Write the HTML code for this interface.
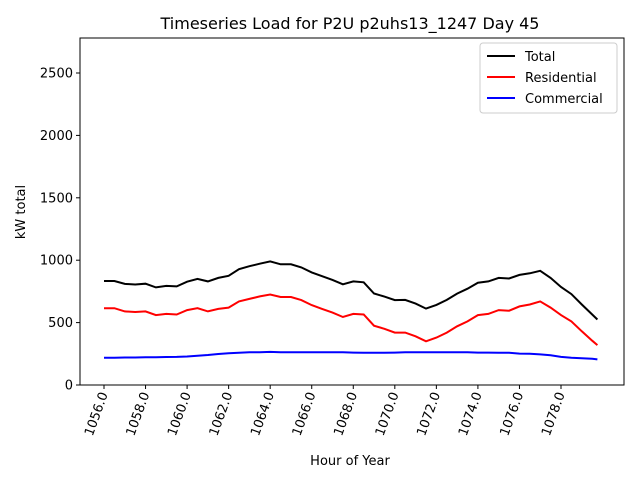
<!DOCTYPE html>
<html><head><meta charset="utf-8"><style>
body{margin:0;background:#fff;font-family:"Liberation Sans","DejaVu Sans",sans-serif}
svg text{font-family:"DejaVu Sans","Liberation Sans",sans-serif}
</style></head><body>
<svg id="c" width="640" height="480" xmlns="http://www.w3.org/2000/svg">
<rect width="640" height="480" fill="#fff"/>
</svg>
<script>
const hours=[];for(let h=1056;h<=1079.5;h+=0.5)hours.push(h);hours.push(1079.75);
const totalVals=[833,833,810,805,812,782,794,790,828,850,830,858,875,928,952,972,990,967,967,942,902,872,842,807,830,823,733,708,680,682,652,612,642,682,732,772,820,830,858,853,882,895,915,858,785,728,645,565,525];
const residentialVals=[615,615,590,585,590,560,570,565,600,615,590,610,620,670,690,710,725,705,705,680,640,610,580,545,570,565,475,450,420,420,390,350,380,420,470,510,560,570,600,595,630,645,670,620,560,510,430,355,320];
const commercialVals=[218,218,220,220,222,222,224,225,228,235,240,248,255,258,262,262,265,262,262,262,262,262,262,262,260,258,258,258,260,262,262,262,262,262,262,262,260,260,258,258,252,250,245,238,225,218,215,210,205];
const xTicks=[1056,1058,1060,1062,1064,1066,1068,1070,1072,1074,1076,1078];
const yTicks=[0,500,1000,1500,2000,2500];
const L=80,R=624,T=38,B=385;
const xs=h=>104+(h-1056)*(561-104)/22;
const ys=v=>385-v*0.1248;
const svg=document.getElementById('c');const NS='http://www.w3.org/2000/svg';
function mk(t,a,p){const e=document.createElementNS(NS,t);for(const k in a)e.setAttribute(k,a[k]);(p||svg).appendChild(e);return e;}
const frame=mk('rect',{x:L,y:T,width:R-L,height:B-T,fill:'none',stroke:'#000','stroke-width':1});


xTicks.forEach(t=>{const x=xs(t);
 const l=mk('line',{x1:x,x2:x,y1:B,y2:B+4,stroke:'#000'});
 
 
 const tx=mk('text',{x:0,y:0,'font-size':13,'text-anchor':'end',transform:`translate(${x+4},${B+9}) rotate(-70)`});
 tx.textContent=t.toFixed(1);
 
 
});
yTicks.forEach(t=>{const y=ys(t);
 const l=mk('line',{x1:L-4,x2:L,y1:y,y2:y,stroke:'#000'});
 
 
 const tx=mk('text',{x:L-7,y:y+4.5,'font-size':13,'text-anchor':'end'});
 tx.textContent=t;
 
 
});
function series(vals,col,name){
 const d=vals.map((v,i)=>(i?'L':'M')+xs(hours[i]).toFixed(1)+','+ys(v).toFixed(1)).join('');
 const p=mk('path',{d:d,fill:'none',stroke:col,'stroke-width':2});
 
 
}
series(totalVals,'#000','total-line');
series(residentialVals,'#f00','residential-line');
series(commercialVals,'#00f','commercial-line');
const title=mk('text',{x:350,y:29,'font-size':16,'text-anchor':'middle'});
title.textContent='Timeseries Load for P2U p2uhs13_1247  Day 45';


const xl=mk('text',{x:350,y:465,'font-size':13,'text-anchor':'middle'});
xl.textContent='Hour of Year';


const yl=mk('text',{x:0,y:0,'font-size':13,'text-anchor':'middle',transform:'translate(25,212) rotate(-90)'});
yl.textContent='kW total';


const lg=mk('g',{});


mk('rect',{x:480,y:43,width:137,height:70,rx:3,fill:'#fff',stroke:'#ccc'},lg);
[['Total','#000'],['Residential','#f00'],['Commercial','#00f']].forEach((e,i)=>{
 const y=56+i*21;
 const ln=mk('line',{x1:487,x2:515,y1:y,y2:y,stroke:e[1],'stroke-width':2},lg);
 
 
 const t=mk('text',{x:525,y:y+5,'font-size':13},lg);t.textContent=e[0];
 
 
});
</script>
</body></html>
